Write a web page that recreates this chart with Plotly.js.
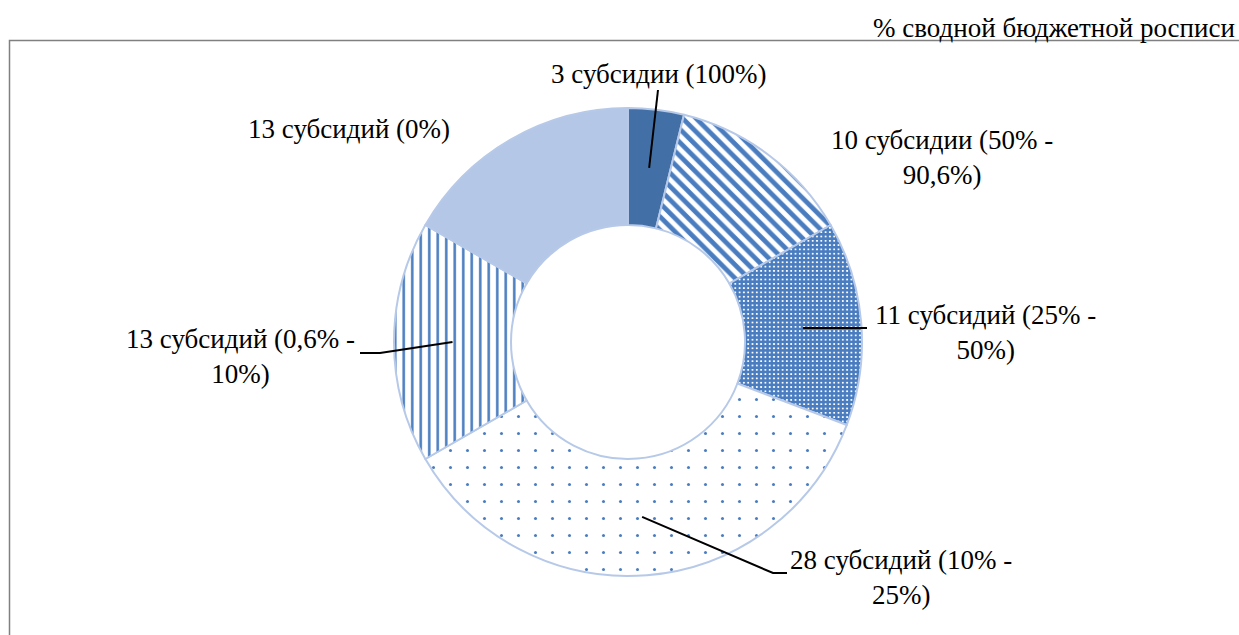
<!DOCTYPE html>
<html>
<head>
<meta charset="utf-8">
<script src="https://cdn.plot.ly/plotly-3.0.1.min.js"></script>
<style>html,body{margin:0;padding:0;background:#fff;}#chart{width:1239px;height:635px;}</style>
</head>
<body>
<div id="chart"></div>
<script>
// ---- data ----
const categories = ['3 субсидии (100%)', '10 субсидии (50% - 90,6%)', '11 субсидий (25% - 50%)', '28 субсидий (10% - 25%)', '13 субсидий (0,6% - 10%)', '13 субсидий (0%)'];
const labelLines = ['3 субсидии (100%)', '10 субсидии (50% -<br>90,6%)', '11 субсидий (25% -<br>50%)', '28 субсидий (10% -<br>25%)', '13 субсидий (0,6% -<br>10%)', '13 субсидий (0%)'];
const counts = [3, 10, 11, 28, 13, 13];
const unitNote = '% сводной бюджетной росписи';
const prevText = 'амме.';

// ---- styles ----
const W = 1239, H = 635;
const cx = 628, cy = 342, R = 234, holeFrac = 0.5;
const patShapes = ['', '\\', '+', '.', '|', ''];
const patFg = ['#4270a6', '#4a7dc0', '#4a7dc0', '#4a7dc0', '#4a7dc0', '#b4c7e7'];
const patBg = ['#4270a6', '#ffffff', '#ffffff', '#ffffff', '#ffffff', '#b4c7e7'];
const patSize = [8, 9.5, 4.3, 17, 8.5, 8];
const patSolid = [0.3, 0.5, 0.82, 0.025, 0.3, 0.3];
const labelPos = [[659, 74], [942, 157], [985, 332], [901, 577], [240, 356], [349, 129]];
const leaderPts = [[[658, 90]], null, [[867, 328]], [[773, 573], [787, 573]], [[380, 353], [360, 353]], null];

const font = {family: 'Liberation Serif', size: 27, color: '#000'};
const px = x => x / W, py = y => 1 - y / H;

const trace = {
  type: 'pie',
  values: counts,
  labels: categories,
  sort: false,
  direction: 'clockwise',
  rotation: 0,
  hole: holeFrac,
  textinfo: 'none',
  hoverinfo: 'label+value',
  showlegend: false,
  domain: {x: [px(cx - R), px(cx + R)], y: [py(cy + R), py(cy - R)]},
  marker: {
    colors: patBg,
    line: {color: '#b7c9e8', width: 2},
    pattern: {shape: patShapes, fgcolor: patFg, bgcolor: patBg, size: patSize, solidity: patSolid, fillmode: 'replace'}
  }
};

const total = counts.reduce((a, b) => a + b, 0);
const annotations = [];
const shapes = [];
let cum = 0;
counts.forEach((v, i) => {
  const mid = (cum + v / 2) / total * 2 * Math.PI;
  cum += v;
  annotations.push({
    xref: 'paper', yref: 'paper', x: px(labelPos[i][0]), y: py(labelPos[i][1]),
    xanchor: 'center', yanchor: 'middle', showarrow: false, align: 'center',
    text: labelLines[i], font: font
  });
  if (leaderPts[i]) {
    const r = R * (1 + holeFrac) / 2;
    const sx = cx + r * Math.sin(mid), sy = cy - r * Math.cos(mid);
    let path = 'M ' + px(sx) + ' ' + py(sy);
    leaderPts[i].forEach(p => { path += ' L ' + px(p[0]) + ' ' + py(p[1]); });
    shapes.push({type: 'path', xref: 'paper', yref: 'paper', path: path, line: {color: '#000', width: 2}});
  }
});

annotations.push({xref: 'paper', yref: 'paper', x: px(1237), y: py(28), xanchor: 'right', yanchor: 'middle', showarrow: false, text: unitNote, font: font});
annotations.push({xref: 'paper', yref: 'paper', x: px(-3), y: py(-10), xanchor: 'left', yanchor: 'middle', showarrow: false, text: prevText, font: font});

shapes.push({type: 'rect', xref: 'paper', yref: 'paper', x0: px(9.5), x1: px(1260), y0: py(660), y1: py(40.5), line: {color: '#808080', width: 1.5}, layer: 'below'});

const layout = {
  width: W, height: H,
  margin: {l: 0, r: 0, t: 0, b: 0},
  paper_bgcolor: '#fff',
  plot_bgcolor: '#fff',
  annotations: annotations,
  shapes: shapes
};

Plotly.newPlot('chart', [trace], layout, {displayModeBar: false, staticPlot: true});
</script>
</body>
</html>
